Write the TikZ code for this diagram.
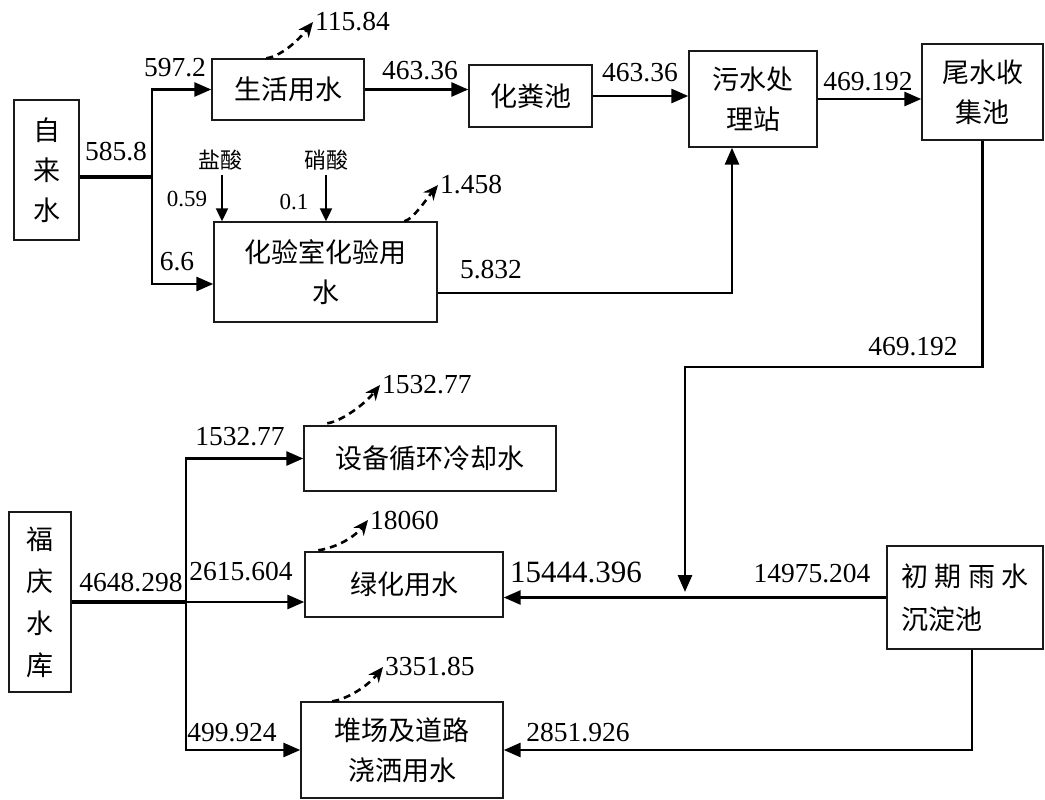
\documentclass[tikz,border=0pt]{standalone}
\usepackage{fontspec}
\setmainfont{Liberation Serif}
\newfontfamily\cjk{Noto Sans CJK SC}
\usepackage{tikz}
\usetikzlibrary{arrows.meta,calc}
\definecolor{ink}{HTML}{000000}
\definecolor{boxline}{HTML}{1A1A1A}
\tikzset{
  unitbox/.style={draw=boxline,line width=1.4pt,inner sep=0pt,align=center,
                  font=\cjk\fontsize{27}{40}\selectfont},
  numlab/.style={font=\fontsize{27.5}{30}\selectfont,inner sep=0pt},
  biglab/.style={font=\fontsize{31}{34}\selectfont,inner sep=0pt},
  smalllab/.style={font=\fontsize{23}{26}\selectfont,inner sep=0pt},
  smallcjk/.style={font=\cjk\fontsize{22}{26}\selectfont,inner sep=0pt},
  trunk/.style={line width=3.6pt,color=ink},
  flowarr/.style={-{Triangle[length=17pt,width=14pt]},line width=2.8pt,color=ink},
  feedarr/.style={-{Triangle[length=13pt,width=12pt]},line width=2.2pt,color=ink},
  lossarr/.style={-{Stealth[length=15pt,width=13pt]},line width=2.6pt,
                  dash pattern=on 7pt off 5pt,color=ink}
}

\begin{document}
\begin{tikzpicture}[x=1pt,y=-1pt]
  \useasboundingbox (0,0) rectangle (1045,800);

  % upper part: tap water
  \node[unitbox,minimum width=65pt,minimum height=140pt] (zls) at (46.5,170) {自\\来\\水};
  \node[unitbox,minimum width=152pt,minimum height=61pt] (shyy) at (288,89.5) {生活用水};
  \node[unitbox,minimum width=123pt,minimum height=62pt] (hfc) at (530.5,96) {化粪池};
  \node[unitbox,minimum width=128pt,minimum height=96pt] (wsz) at (753,99) {污水处\\理站};
  \node[unitbox,minimum width=121pt,minimum height=96pt] (wsc) at (982.5,92) {尾水收\\集池};
  \node[unitbox,minimum width=223pt,minimum height=100pt] (hys) at (325.5,272) {化验室化验用\\水};

  \coordinate (zjunc) at (152,177);
  \draw[trunk] (zls.east |- zjunc) -- (zjunc);
  \draw[flowarr] (zjunc) |- (shyy.west);
  \draw[flowarr] (zjunc) |- ($(hys.west)+(0,12)$);
  \draw[flowarr] (shyy.east) -- (shyy.east -| hfc.west);
  \draw[flowarr] (hfc.east) -- (hfc.east -| wsz.west);
  \draw[flowarr] ($(hys.east)+(0,21)$) -| ($(wsz.south)+(-21,0)$);
  \draw[flowarr] (wsz.east) -- (wsz.east -| wsc.west);

  \node[numlab] (n5972) at (175,68) {597.2};
  \node[numlab] (n5858) at (116,152) {585.8};
  \node[numlab] (n66) at (177,262) {6.6};
  \node[numlab] (n46336a) at (420,71) {463.36};
  \node[numlab] (n46336b) at (640,73) {463.36};
  \node[numlab] (n5832) at (491,270) {5.832};
  \node[numlab] (n469a) at (868,82) {469.192};

  % acids
  \node[smallcjk] (hcl) at (220,160) {盐酸};
  \node[smallcjk] (hno) at (326,160) {硝酸};
  \node[smalllab] (n059) at (187,199) {0.59};
  \node[smalllab] (n01) at (294,202) {0.1};
  \draw[feedarr] ($(hcl.south)+(2,5)$) -- ($(hcl.south |- hys.north)+(2,0)$);
  \draw[feedarr] ($(hno.south)+(0,5)$) -- (hno.south |- hys.north);

  % losses
  \node[numlab,anchor=west,inner xsep=2pt] (ls1) at (313,22) {115.84};
  \draw[lossarr] ($(shyy.north west)+(55,0)$) .. controls +(14,-2) and +(-16,20) .. (ls1.west);
  \node[numlab,anchor=west,inner xsep=2pt] (ls2) at (438,185) {1.458};
  \draw[lossarr] ($(hys.north west)+(191,0)$) .. controls +(9,-2) and +(-10,12) .. (ls2.west);

  % tail water to greening
  \coordinate (wbend) at (685,367);
  \coordinate (wdrop) at (685,592);
  \draw[flowarr] (wsc.south) |- (wbend) -- (wdrop);
  \node[numlab] (n469b) at (913,347) {469.192};

  % lower part: reservoir
  \node[unitbox,minimum width=62pt,minimum height=180pt,
        font=\cjk\fontsize{27}{42}\selectfont] (fqsk) at (40,602) {福\\庆\\水\\库};
  \node[unitbox,minimum width=252pt,minimum height=65pt] (sblq) at (430,458.5) {设备循环冷却水};
  \node[unitbox,minimum width=198pt,minimum height=65pt] (lhys) at (404,584.5) {绿化用水};
  \node[unitbox,minimum width=202pt,minimum height=96pt] (dcdl) at (402,750) {堆场及道路\\浇洒用水};
  \node[unitbox,minimum width=156pt,minimum height=103pt,align=left,
        font=\cjk\fontsize{27}{43}\selectfont] (cqys) at (965,597.5) {初 期 雨 水\\沉淀池};

  \coordinate (fjunc) at (186,602);
  \draw[trunk] (fqsk.east) -- (fjunc);
  \draw[flowarr] (fjunc) |- (sblq.west);
  \draw[flowarr] (fjunc) -- (fjunc -| lhys.west);
  \draw[flowarr] (fjunc) |- (dcdl.west);
  \draw[flowarr] (cqys.west) -- (cqys.west -| lhys.east);
  \draw[flowarr] ($(cqys.south)+(7,0)$) |- (dcdl.east);

  \node[numlab] (n153277a) at (240,437) {1532.77};
  \node[numlab] (n4648) at (131,583) {4648.298};
  \node[numlab] (n2615) at (241,572) {2615.604};
  \node[numlab] (n499) at (232,733) {499.924};
  \node[biglab] (n15444) at (576,572) {15444.396};
  \node[numlab] (n14975) at (812,574) {14975.204};
  \node[numlab] (n2851) at (578,733) {2851.926};

  \node[numlab,anchor=west,inner xsep=2pt] (ls3) at (380,385) {1532.77};
  \draw[lossarr] ($(sblq.north west)+(24,-2)$) .. controls +(14,-2) and +(-16,20) .. (ls3.west);
  \node[numlab,anchor=west,inner xsep=2pt] (ls4) at (368,520) {18060};
  \draw[lossarr] ($(lhys.north west)+(14,-1)$) .. controls +(14,-2) and +(-16,20) .. (ls4.west);
  \node[numlab,anchor=west,inner xsep=2pt] (ls5) at (383,667) {3351.85};
  \draw[lossarr] ($(dcdl.north west)+(32,0)$) .. controls +(14,-2) and +(-16,20) .. (ls5.west);
\end{tikzpicture}
\end{document}
